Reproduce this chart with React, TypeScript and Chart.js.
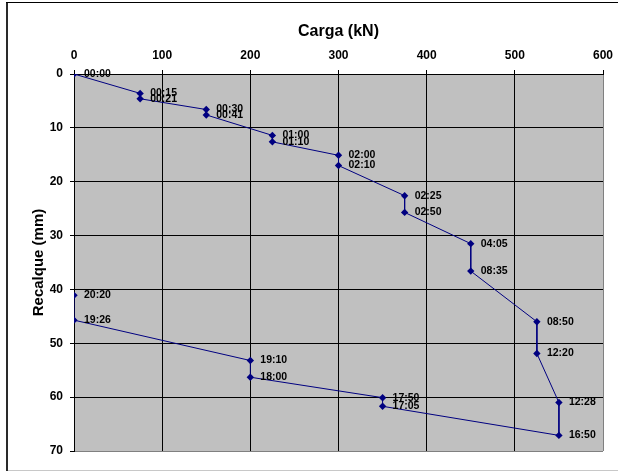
import { useEffect, useRef } from "react";
import { Chart, registerables } from "chart.js";

Chart.register(...registerables);

// Load (kN) for each reading
const cargas = [0, 75, 75, 150, 150, 225, 225, 300, 300, 375, 375, 450, 450, 525, 525, 550, 550, 350, 350, 200, 200, 0, 0];
// Settlement (mm) for each reading
const recalques = [0, 3.6, 4.6, 6.6, 7.6, 11.4, 12.6, 15.1, 17.0, 22.6, 25.7, 31.5, 36.6, 46.0, 51.9, 61.0, 67.1, 61.7, 60.1, 56.3, 53.2, 45.7, 41.1];
// Time labels
const horarios = [
  "00:00", "00:15", "00:21", "00:30", "00:41", "01:00", "01:10", "02:00", "02:10", "02:25", "02:50",
  "04:05", "08:35", "08:50", "12:20", "12:28", "16:50", "17:05", "17:50", "18:00", "19:10", "19:26", "20:20",
];

const FONT = "'Liberation Sans', Arial, sans-serif";

const bgPlugin = {
  id: "bgPlugin",
  beforeDraw(chart: any) {
    const { ctx, chartArea, width, height } = chart;
    ctx.save();
    ctx.fillStyle = "#ffffff";
    ctx.fillRect(0, 0, width, height);
    ctx.fillStyle = "#c0c0c0";
    ctx.fillRect(chartArea.left, chartArea.top, chartArea.right - chartArea.left, chartArea.bottom - chartArea.top);
    ctx.restore();
  },
  afterDraw(chart: any) {
    const { ctx, width, height } = chart;
    ctx.save();
    ctx.strokeStyle = "#2a2a2a";
    ctx.lineWidth = 2;
    ctx.beginPath();
    ctx.moveTo(7, 2);
    ctx.lineTo(7, height - 1);
    ctx.stroke();
    ctx.strokeStyle = "#000";
    ctx.lineWidth = 1;
    ctx.beginPath();
    ctx.moveTo(6, 2.5);
    ctx.lineTo(width, 2.5);
    ctx.stroke();
    ctx.strokeStyle = "#c8c8c8";
    ctx.beginPath();
    ctx.moveTo(8, height - 1.5);
    ctx.lineTo(width, height - 1.5);
    ctx.stroke();
    ctx.restore();
  },
};

const labelPlugin = {
  id: "labelPlugin",
  afterDatasetsDraw(chart: any) {
    const { ctx } = chart;
    const meta = chart.getDatasetMeta(0);
    ctx.save();
    ctx.font = `bold 10.5px ${FONT}`;
    ctx.fillStyle = "#000";
    ctx.textAlign = "left";
    ctx.textBaseline = "middle";
    meta.data.forEach((pt: any, i: number) => {
      ctx.fillText(horarios[i], pt.x + 10, pt.y);
    });
    ctx.restore();
  },
};

export default function App() {
  const ref = useRef<HTMLCanvasElement>(null);

  useEffect(() => {
    if (!ref.current) return;
    const chart = new Chart(ref.current, {
      type: "scatter",
      data: {
        datasets: [
          {
            data: cargas.map((c, i) => ({ x: c, y: recalques[i] })),
            showLine: true,
            borderColor: "#000080",
            borderWidth: 1,
            backgroundColor: "#000080",
            pointStyle: "rectRot",
            pointRadius: 3.7,
            pointBorderWidth: 0,
            pointBackgroundColor: "#000080",
            pointBorderColor: "#000080",
          },
        ],
      },
      plugins: [bgPlugin, labelPlugin],
      options: {
        animation: false,
        responsive: false,
        events: [],
        layout: { padding: { left: 8, top: 4, right: 15, bottom: 21 } },
        plugins: {
          legend: { display: false },
          tooltip: { enabled: false },
        },
        scales: {
          x: {
            type: "linear",
            position: "top",
            min: 0,
            max: 600,
            afterFit: (s: any) => {
              s.height = 70;
              s.paddingLeft = 0;
              s.paddingRight = 0;
            },
            ticks: {
              stepSize: 100,
              padding: 7,
              color: "#000",
              font: { family: FONT, size: 12, weight: "bold" },
            },
            grid: {
              color: (c: any) => (c.tick && c.tick.value === 600 ? "#808080" : "#000"),
              tickColor: "#000",
              tickLength: 4,
              lineWidth: 1,
            },
            border: { display: true, color: "#000", width: 1 },
            title: {
              display: true,
              text: "Carga (kN)",
              color: "#000",
              padding: { top: 18, bottom: 0 },
              font: { family: FONT, size: 16, weight: "bold" },
            },
          },
          y: {
            type: "linear",
            position: "left",
            reverse: true,
            min: 0,
            max: 70,
            afterFit: (s: any) => {
              s.width = 66;
              s.paddingTop = 0;
              s.paddingBottom = 0;
            },
            ticks: {
              stepSize: 10,
              padding: 7,
              color: "#000",
              font: { family: FONT, size: 12, weight: "bold" },
            },
            grid: {
              color: (c: any) => (c.tick && c.tick.value === 70 ? "#808080" : "#000"),
              tickColor: "#000",
              tickLength: 4,
              lineWidth: 1,
            },
            border: { display: true, color: "#000", width: 1 },
            title: {
              display: true,
              text: "Recalque (mm)",
              color: "#000",
              padding: { top: 22, bottom: 0 },
              font: { family: FONT, size: 15, weight: "bold" },
            },
          },
        },
      },
    });
    return () => chart.destroy();
  }, []);

  return (
    <div style={{ position: "absolute", left: 0, top: 0, width: 618, height: 472 }}>
      <canvas ref={ref} width={618} height={472} style={{ width: 618, height: 472, display: "block" }} />
    </div>
  );
}
